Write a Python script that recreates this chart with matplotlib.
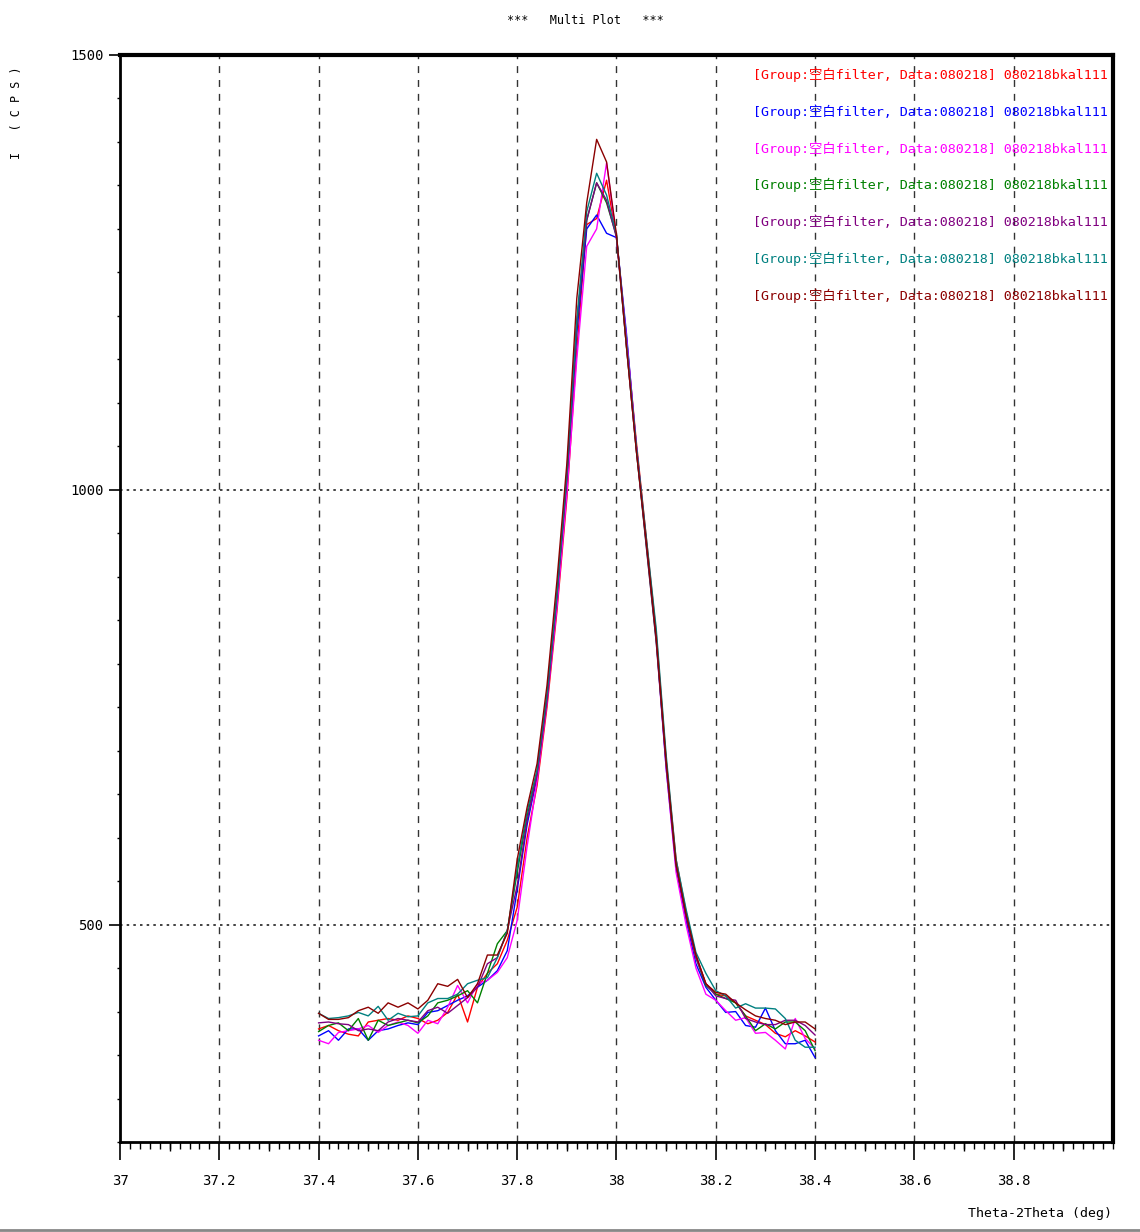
import numpy as np
import matplotlib
matplotlib.use("Agg")
import matplotlib.pyplot as plt
from matplotlib.lines import Line2D

# two-theta grid, 37.40 .. 38.40 deg, step 0.02
two_theta = np.round(np.arange(37.40, 38.4001, 0.02), 2)

red = [380, 384, 378, 374, 372, 388, 390, 392, 390, 395, 392,
       386, 390, 399, 420, 388, 428, 444, 455, 482,
       520, 600, 660, 750, 860, 990, 1160, 1305, 1312, 1356, 1290,
       1175, 1055, 945, 835, 690, 575, 515, 465, 432,
       420, 418, 410, 395, 390, 385, 375, 371, 378, 372, 365]
blue = [372, 378, 367, 380, 380, 367, 378, 380, 384, 387, 385,
        399, 401, 407, 413, 418, 428, 436, 447, 470,
        540, 615, 670, 760, 870, 1010, 1180, 1300, 1316, 1295, 1290,
        1180, 1050, 940, 830, 680, 565, 505, 455, 428,
        413, 399, 400, 384, 382, 404, 378, 363, 363, 367, 347]
magenta = [367, 363, 376, 378, 380, 384, 376, 384, 388, 384, 375,
           390, 386, 405, 430, 410, 432, 436, 445, 462,
           505, 590, 665, 755, 865, 995, 1150, 1280, 1300, 1376, 1290,
           1175, 1050, 935, 825, 680, 560, 500, 450, 420,
           413, 401, 390, 393, 375, 376, 367, 357, 392, 369, 357]
green = [377, 384, 387, 378, 392, 367, 390, 384, 387, 390, 387,
         395, 410, 413, 418, 424, 410, 444, 478, 493,
         560, 625, 675, 762, 880, 1015, 1190, 1310, 1353, 1330, 1292,
         1165, 1045, 935, 825, 685, 568, 512, 462, 430,
         420, 415, 410, 395, 378, 386, 380, 388, 388, 378, 355]
purple = [387, 388, 386, 385, 378, 380, 378, 388, 392, 390, 388,
          401, 405, 398, 407, 416, 428, 455, 462, 493,
          545, 620, 672, 758, 875, 1012, 1190, 1310, 1353, 1333, 1290,
          1165, 1045, 938, 828, 685, 568, 510, 462, 432,
          418, 415, 413, 392, 388, 385, 385, 390, 390, 384, 373]
teal = [398, 392, 393, 395, 399, 395, 406, 390, 398, 394, 395,
        410, 415, 415, 420, 432, 436, 439, 462, 493,
        565, 630, 678, 765, 880, 1020, 1195, 1320, 1364, 1339, 1293,
        1170, 1050, 945, 840, 695, 575, 518, 468, 444,
        424, 418, 404, 409, 404, 404, 403, 392, 367, 359, 359]
brown = [398, 391, 391, 393, 401, 405, 398, 410, 405, 410, 403,
         413, 432, 429, 437, 416, 432, 465, 465, 490,
         575, 635, 685, 775, 895, 1030, 1220, 1330, 1403, 1377, 1293,
         1165, 1045, 940, 830, 688, 570, 512, 465, 432,
         422, 420, 410, 402, 395, 392, 390, 385, 388, 388, 380]

series = [red, blue, magenta, green, purple, teal, brown]
colors = ["#ff0000", "#0000ff", "#ff00ff", "#008000", "#800080", "#008080", "#8b0000"]
label = "[Group:空白filter, Data:080218] 080218bkal111"

x_major = [37, 37.2, 37.4, 37.6, 37.8, 38, 38.2, 38.4, 38.6, 38.8]
x_major_lbl = ["37", "37.2", "37.4", "37.6", "37.8", "38", "38.2", "38.4", "38.6", "38.8"]
y_major = [500, 1000, 1500]

MONO = ["DejaVu Sans Mono", "Noto Sans CJK SC"]

W, H = 1140, 1232
fig = plt.figure(figsize=(W / 100, H / 100), dpi=100)
ax = fig.add_axes([120 / W, 1 - 1142 / H, (1113 - 120) / W, (1142 - 55) / H])

for ys, c in zip(series, colors):
    ax.plot(two_theta, ys, color=c, lw=1.0)

ax.set_xlim(37, 39)
ax.set_ylim(250, 1500)

# grid: dashed verticals, dotted horizontals
for xv in x_major[1:]:
    ax.axvline(xv, color="#333333", lw=1.0, ls=(0, (5, 5)), zorder=0)
for yv in y_major[:-1]:
    ax.axhline(yv, color="#222222", lw=1.2, ls=(0, (1.5, 2.5)), zorder=0)

ax.set_xticks(x_major)
ax.set_xticklabels(x_major_lbl, family=MONO, fontsize=10)
ax.set_xticks(np.arange(37, 39.0001, 0.02), minor=True)
ax.tick_params(axis="x", which="major", direction="out", length=13, width=1.2, pad=10)
ax.tick_params(axis="x", which="minor", direction="out", length=5, width=1.0)
# medium ticks at the odd tenths
mids = np.arange(37.1, 39.0, 0.2)
ax.vlines(mids, -8.5 / 1087, 0, transform=ax.get_xaxis_transform(),
          color="black", lw=1.0, clip_on=False)

ax.set_yticks(y_major)
ax.set_yticklabels([str(v) for v in y_major], family=MONO, fontsize=10)
ax.set_yticks(np.arange(250, 1501, 50), minor=True)
ax.tick_params(axis="y", which="major", direction="out", length=8, width=1.2, pad=4)
ax.tick_params(axis="y", which="minor", direction="out", length=2.5, width=1.0)

for side in ["left", "bottom"]:
    ax.spines[side].set_linewidth(2.0)
for side in ["top", "right"]:
    ax.spines[side].set_linewidth(3.0)

# legend as coloured text lines
for i, c in enumerate(colors):
    ax.text(1108 / W, 1 - (75 + i * 36.7) / H, label, color=c, family=MONO,
            fontsize=9.6, ha="right", va="center", transform=fig.transFigure)

fig.text(585 / W, 1 - 20 / H, "***   Multi Plot   ***", family=MONO,
         fontsize=8.5, ha="center", va="center")
fig.text(17 / W, 1 - 113 / H, "I   ( C P S )", family=MONO, fontsize=8.5,
         rotation=90, ha="center", va="center")
fig.text(1112 / W, 1 - 1214 / H, "Theta-2Theta (deg)", family=MONO,
         fontsize=9.5, ha="right", va="center")

fig.add_artist(Line2D([0, 1], [1 - 1230 / H, 1 - 1230 / H], color="#888888",
                      lw=2, transform=fig.transFigure))

fig.savefig("out.png", dpi=100)
